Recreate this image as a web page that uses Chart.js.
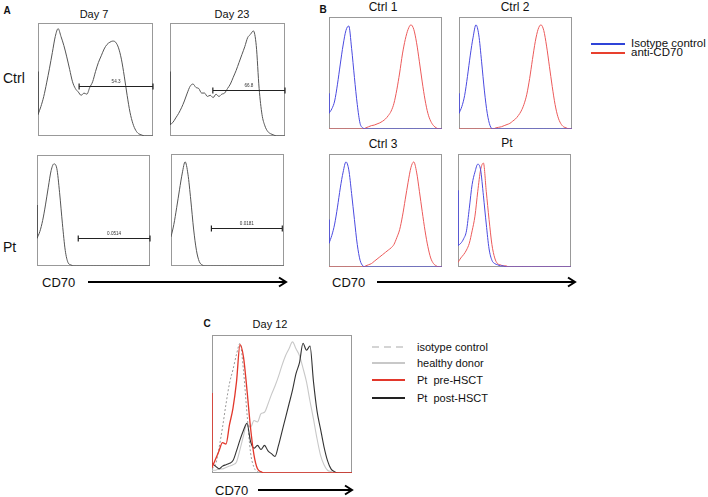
<!DOCTYPE html>
<html>
<head>
<meta charset="utf-8">
<script src="https://cdn.jsdelivr.net/npm/chart.js@4.4.1/dist/chart.umd.min.js"></script>
<style>
body{margin:0;background:#fff;width:708px;height:497px;position:relative;overflow:hidden;font-family:"Liberation Sans",Arial,sans-serif;color:#111}
.t{position:absolute;white-space:pre;transform:translate(-50%,-50%);line-height:1}
.l{position:absolute;white-space:pre;transform:translateY(-50%);line-height:1}
.b{font-weight:bold;font-size:10px}
svg{position:absolute;left:0;top:0}
</style>
</head>
<body>
<div class="t b" style="left:7px;top:11px">A</div>
<div class="t" style="left:94px;top:14px;font-size:11px">Day 7</div>
<div class="t" style="left:232px;top:14px;font-size:11px">Day 23</div>
<div class="l" style="left:3px;top:78px;font-size:14px">Ctrl</div>
<div class="l" style="left:3px;top:247px;font-size:14px">Pt</div>
<div class="l" style="left:42px;top:282px;font-size:13px">CD70</div>

<div class="t b" style="left:323px;top:10px">B</div>
<div class="t" style="left:383px;top:7px;font-size:12px">Ctrl 1</div>
<div class="t" style="left:515px;top:7px;font-size:12px">Ctrl 2</div>
<div class="t" style="left:383px;top:144px;font-size:12px">Ctrl 3</div>
<div class="t" style="left:507px;top:143px;font-size:12px">Pt</div>
<div class="l" style="left:332px;top:282px;font-size:13px">CD70</div>
<div class="l" style="left:631px;top:44px;font-size:11.5px">Isotype control</div>
<div class="l" style="left:631px;top:53px;font-size:11.5px">anti-CD70</div>

<div class="t b" style="left:207px;top:324px">C</div>
<div class="t" style="left:270px;top:324px;font-size:11px">Day 12</div>
<div class="l" style="left:215px;top:490px;font-size:13px">CD70</div>
<div class="l" style="left:417px;top:347px;font-size:11px">isotype control</div>
<div class="l" style="left:417px;top:363px;font-size:11px">healthy donor</div>
<div class="l" style="left:417px;top:380px;font-size:11px">Pt  pre-HSCT</div>
<div class="l" style="left:417px;top:398px;font-size:11px">Pt  post-HSCT</div>

<svg width="708" height="497">
  <line x1="88" y1="282" x2="285" y2="282" stroke="#000" stroke-width="2"/>
  <polyline points="279,277.5 286,282 279,286.5" fill="none" stroke="#000" stroke-width="2"/>
  <line x1="377" y1="282" x2="574" y2="282" stroke="#000" stroke-width="2"/>
  <polyline points="568,277.5 575,282 568,286.5" fill="none" stroke="#000" stroke-width="2"/>
  <line x1="258" y1="490" x2="351" y2="490" stroke="#000" stroke-width="2"/>
  <polyline points="345,485.5 352,490 345,494.5" fill="none" stroke="#000" stroke-width="2"/>
  <line x1="591" y1="44" x2="625" y2="44" stroke="#2f44d8" stroke-width="2"/>
  <line x1="591" y1="53" x2="625" y2="53" stroke="#e8402e" stroke-width="2"/>
  <line x1="372" y1="347" x2="405" y2="347" stroke="#d4d4d4" stroke-width="2" stroke-dasharray="7,5"/>
  <line x1="372" y1="363" x2="405" y2="363" stroke="#c8c8c8" stroke-width="2"/>
  <line x1="372" y1="380" x2="405" y2="380" stroke="#e2372b" stroke-width="2"/>
  <line x1="372" y1="398" x2="405" y2="398" stroke="#222" stroke-width="2"/>
</svg>

<script>
// channel bins (x) shared by every histogram
const CH = [0,1,2,3,4,5,6,7,8,9,10,11,12,13,14,15,16,17,18,19,20,
            21,22,23,24,25,26,27,28,29,30,31,32,33,34,35,36,37,38,39,40];

// A: CD70 histograms (normalised counts)
const A_D7_CTRL = [0.19,0.26,0.35,0.47,0.60,0.74,0.88,0.95,0.88,0.80,
  0.70,0.59,0.48,0.42,0.39,0.36,0.38,0.37,0.43,0.48,
  0.57,0.65,0.71,0.77,0.81,0.83,0.84,0.83,0.78,0.68,
  0.53,0.36,0.21,0.11,0.05,0.02,0.01,0,0,0,0];
const A_D23_CTRL = [0.10,0.12,0.16,0.20,0.25,0.31,0.38,0.44,0.46,0.43,
  0.42,0.38,0.38,0.35,0.36,0.34,0.37,0.35,0.37,0.38,
  0.42,0.46,0.52,0.58,0.65,0.72,0.79,0.87,0.90,0.93,
  0.80,0.42,0.19,0.09,0.04,0.02,0.01,0,0,0,0];
const A_D7_PT = [0.25,0.31,0.41,0.55,0.71,0.86,0.92,0.88,0.66,0.38,
  0.14,0.03,0.01,0,0,0,0,0,0,0,0,0,0,0,0,0,0,0,0,0,0,0,0,0,0,0,0,0,0,0,0];
const A_D23_PT = [0.26,0.37,0.52,0.68,0.83,0.93,0.82,0.59,0.33,0.14,
  0.04,0.01,0,0,0,0,0,0,0,0,0,0,0,0,0,0,0,0,0,0,0,0,0,0,0,0,0,0,0,0,0];
const A_FIRST = [0.57, 0.57, 0.55, 0];
const GATE_FROM = [14.3, 14.9, 14.6, 14.3];
const GATE_TO = [40, 40, 40, 39.4];
const GATE_Y = [0.44, 0.41, 0.255, 0.34];
const GATE_LABELS = ['54.3', '66.8', '0.0514', '0.0181'];

// B: isotype vs anti-CD70
const B_ISO_1 = [0.14,0.18,0.25,0.40,0.58,0.75,0.88,0.92,0.72,0.46,
  0.22,0.05,0.01,0,0,0,0,0,0,0,0,0,0,0,0,0,0,0,0,0,0,0,0,0,0,0,0,0,0,0,0];
const B_CD70_1 = [0,0,0,0,0,0,0,0,0,0,0,0,0,
  0.01,0.02,0.03,0.035,0.045,0.055,0.07,0.09,0.12,0.16,0.23,0.35,0.50,0.67,0.80,0.89,0.93,
  0.89,0.77,0.60,0.42,0.26,0.14,0.07,0.03,0.01,0,0];
const B_ISO_2 = [0.14,0.20,0.30,0.47,0.66,0.82,0.93,0.84,0.60,0.34,
  0.14,0.03,0,0,0,0,0,0,0,0,0,0,0,0,0,0,0,0,0,0,0,0,0,0,0,0,0,0,0,0,0];
const B_CD70_2 = [0,0,0,0,0,0,0,0,0,0,0,0,0,
  0.01,0.015,0.02,0.03,0.04,0.05,0.07,0.09,0.12,0.16,0.22,0.31,0.45,0.62,0.78,0.89,0.93,
  0.88,0.74,0.56,0.38,0.22,0.11,0.05,0.02,0.01,0,0];
const B_ISO_3 = [0.21,0.28,0.38,0.53,0.70,0.84,0.93,0.86,0.65,0.42,
  0.20,0.06,0.01,0,0,0,0,0,0,0,0,0,0,0,0,0,0,0,0,0,0,0,0,0,0,0,0,0,0,0,0];
const B_CD70_3 = [0,0,0,0,0,0,0,0,0,0,0,0,0,
  0.01,0.02,0.03,0.05,0.07,0.09,0.11,0.13,0.15,0.17,0.20,0.26,0.33,0.45,0.60,0.75,0.88,
  0.93,0.84,0.67,0.49,0.32,0.18,0.08,0.03,0.01,0,0];
const B_ISO_PT = [0.19,0.21,0.25,0.32,0.52,0.73,0.84,0.91,0.86,0.63,
  0.38,0.16,0.06,0.03,0.02,0.01,0.01,0,0,0,0,0,0,0,0,0,0,0,0,0,0,0,0,0,0,0,0,0,0,0,0];
const B_CD70_PT = [0.04,0.08,0.11,0.15,0.21,0.32,0.45,0.67,0.86,0.92,
  0.67,0.42,0.20,0.08,0.03,0.02,0.01,0.01,0,0,0,0,0,0,0,0,0,0,0,0,0,0,0,0,0,0,0,0,0,0,0];
const B_FIRST = [0.32, 0.32, 0.42, 0.68];

// C: day 12
const C_ISO = [0.03,0.06,0.18,0.33,0.50,0.65,0.75,0.86,0.94,0.74,
  0.43,0.15,0.04,0.01,0,0,0,0,0,0,0,0,0,0,0,0,0,0,0,0,0,0,0,0,0,0,0,0,0,0,0];
const C_HD = [0.02,0.02,0.03,0.03,0.04,0.05,0.06,0.08,0.17,0.27,
  0.36,0.33,0.38,0.37,0.43,0.44,0.50,0.57,0.63,0.70,
  0.78,0.85,0.90,0.95,0.90,0.85,0.76,0.66,0.52,0.39,
  0.25,0.13,0.06,0.02,0.01,0,0,0,0,0,0];
const C_PRE = [0.04,0.10,0.16,0.22,0.21,0.35,0.47,0.66,0.93,0.84,
  0.60,0.33,0.13,0.03,0.01,0,0,0,0,0,0,0,0,0,0,0,0,0,0,0,0,0,0,0,0,0,0,0,0,0,0];
const C_POST = [0.07,0.05,0.03,0.05,0.06,0.07,0.09,0.16,0.24,0.31,
  0.36,0.23,0.18,0.20,0.17,0.20,0.16,0.14,0.12,0.20,
  0.30,0.40,0.50,0.60,0.72,0.80,0.94,0.89,0.92,0.66,
  0.45,0.32,0.19,0.09,0.03,0.01,0,0,0,0,0];
const C_FIRST = 0.58;

const PAD = 3;
const xy = vals => vals.map((v, i) => ({x: CH[i], y: v}));
const line = (vals, color, extra) => Object.assign({data: xy(vals), borderColor: color, borderWidth: 1, fill: false}, extra || {});
const spike = (top, base, color) => ({data: [{x: 0, y: top}, {x: 0, y: base}], borderColor: color, borderWidth: 1.6, fill: false});

const boxPlugin = {
  id: 'box',
  beforeDatasetsDraw(chart, args, o) {
    const a = chart.chartArea, ctx = chart.ctx;
    ctx.save();
    ctx.strokeStyle = o.color || '#999';
    ctx.lineWidth = 1;
    ctx.strokeRect(a.left + 0.5, a.top + 0.5, a.right - a.left - 1, a.bottom - a.top - 1);
    ctx.restore();
  },
  afterDatasetsDraw(chart, args, o) {
    const g = o.gate;
    if (!g) return;
    const ctx = chart.ctx, xs = chart.scales.x, ys = chart.scales.y;
    const x0 = xs.getPixelForValue(g.from), x1 = xs.getPixelForValue(g.to), y = Math.round(ys.getPixelForValue(g.y)) + 0.5;
    ctx.save();
    ctx.strokeStyle = '#222'; ctx.lineWidth = 1.2;
    ctx.beginPath();
    ctx.moveTo(x0, y); ctx.lineTo(x1, y);
    ctx.moveTo(x0, y - 3); ctx.lineTo(x0, y + 3);
    ctx.moveTo(x1, y - 3); ctx.lineTo(x1, y + 3);
    ctx.stroke();
    ctx.fillStyle = '#333';
    ctx.font = '4.6px "Liberation Sans"';
    ctx.textAlign = 'center'; ctx.textBaseline = 'bottom';
    ctx.fillText(g.label, (x0 + x1) / 2, y - 2);
    ctx.restore();
  }
};

function histo(left, top, w, h, sets, gate) {
  const cv = document.createElement('canvas');
  cv.width = w + PAD * 2; cv.height = h + PAD * 2;
  cv.style.cssText = `position:absolute;left:${left - PAD}px;top:${top - PAD}px;width:${w + 2 * PAD}px;height:${h + 2 * PAD}px`;
  document.body.appendChild(cv);
  new Chart(cv, {
    type: 'line',
    data: {datasets: sets},
    options: {
      responsive: false, animation: false, events: [],
      layout: {padding: PAD},
      elements: {point: {radius: 0}, line: {cubicInterpolationMode: 'monotone'}},
      plugins: {legend: {display: false}, tooltip: {enabled: false}, box: {gate: gate}},
      scales: {
        x: {type: 'linear', min: 0, max: 40, display: false},
        y: {min: 0, max: 1, display: false}
      }
    },
    plugins: [boxPlugin]
  });
}

const gate = i => ({from: GATE_FROM[i], to: GATE_TO[i], y: GATE_Y[i], label: GATE_LABELS[i]});
const GRAY = '#555';

histo(38, 23, 115, 113, [spike(A_FIRST[0], A_D7_CTRL[0], '#444'), line(A_D7_CTRL, GRAY)], gate(0));
histo(170, 23, 115, 113, [spike(A_FIRST[1], A_D23_CTRL[0], '#444'), line(A_D23_CTRL, GRAY)], gate(1));
histo(37, 155, 113, 111, [spike(A_FIRST[2], A_D7_PT[0], '#444'), line(A_D7_PT, GRAY)], gate(2));
histo(171, 154, 113, 112, [line(A_D23_PT, GRAY)], gate(3));

const BLUE = '#4a4ae0', RED = '#ec5a5a';
histo(329, 17, 113, 112, [spike(B_FIRST[0], B_ISO_1[0], BLUE), line(B_ISO_1, BLUE), line(B_CD70_1, RED)]);
histo(459, 17, 113, 112, [spike(B_FIRST[1], B_ISO_2[0], BLUE), line(B_ISO_2, BLUE), line(B_CD70_2, RED)]);
histo(329, 154, 113, 113, [spike(B_FIRST[2], B_ISO_3[0], BLUE), line(B_ISO_3, BLUE), line(B_CD70_3, RED)]);
histo(458, 154, 113, 113, [spike(B_FIRST[3], B_ISO_PT[0], BLUE), line(B_ISO_PT, BLUE), line(B_CD70_PT, RED)]);

histo(212, 335, 140, 138, [
  spike(C_FIRST, C_PRE[0], '#e2372b'),
  line(C_PRE, '#e2372b', {borderWidth: 1.3}),
  line(C_POST, '#333', {borderWidth: 1.1}),
  line(C_ISO, '#999', {borderDash: [2, 2]}),
  line(C_HD, '#c8c8c8', {borderWidth: 1.1})
]);
</script>
</body>
</html>
